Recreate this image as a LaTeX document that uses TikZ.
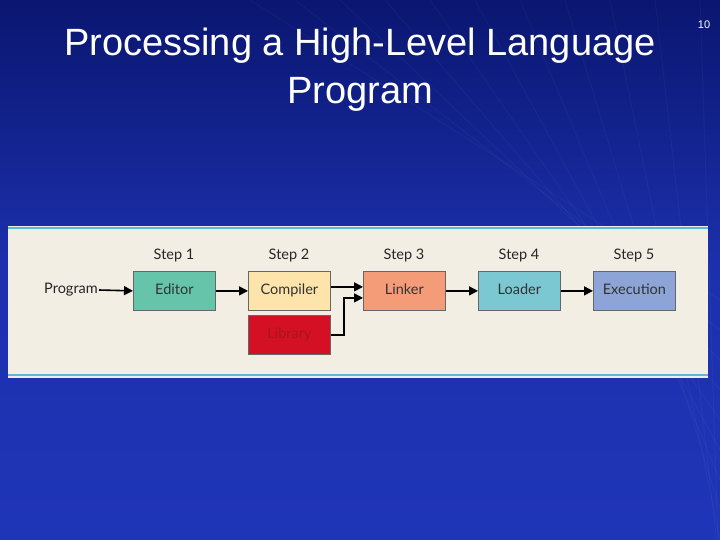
\documentclass[tikz,border=0pt]{standalone}
\usepackage{fontspec}
\setmainfont{Liberation Sans}
\newfontfamily\boxfont{Lato}
\usetikzlibrary{arrows.meta}
\definecolor{bgA}{HTML}{0A1670}
\definecolor{bgB}{HTML}{1F35B8}
\definecolor{panel}{HTML}{F3EEE3}
\definecolor{edgeC}{HTML}{5BB8D8}
\tikzset{
 stepbox/.style={draw=black!60, line width=0.8pt, minimum width=82pt, minimum height=39pt, anchor=north west, font=\boxfont\fontsize{14.5}{14}\selectfont, text=black!80, text height=10pt, text depth=3pt},
 steplab/.style={font=\boxfont\fontsize{14.5}{14}\selectfont, text=black!85, text height=10pt, text depth=3pt},
 conn/.style={-{Triangle[length=9pt,width=9pt]}, line width=1.6pt}
}
\begin{document}
\begin{tikzpicture}[x=1pt,y=-1pt]
\useasboundingbox (0,0) rectangle (720,540);
\shade[top color=bgA, bottom color=bgB, middle color=bgB!85!bgA] (0,0) rectangle (720,540);
\foreach \i in {0,...,10} {\draw[white, opacity=0.03, line width=1pt] (250+\i*45,0) -- (720,300+\i*30);}
\node[text=white, font=\fontsize{38}{48}\selectfont, align=center] (title) at (360,70) {Processing a High-Level Language\\Program};
\node[text=white, font=\fontsize{11}{11}\selectfont] (num) at (704,25) {10};
\fill[panel] (8,226) rectangle (708,378);
\draw[edgeC, line width=2pt] (8,228) -- (708,228);
\draw[edgeC, line width=2pt] (8,375) -- (708,375);
\node[stepbox, fill={rgb,255:red,102;green,196;blue,170}] (ed) at (133,271) {Editor};
\node[stepbox, fill={rgb,255:red,252;green,228;blue,170}] (co) at (248,271) {Compiler};
\node[stepbox, fill={rgb,255:red,244;green,156;blue,120}] (li) at (363,271) {Linker};
\node[stepbox, fill={rgb,255:red,124;green,200;blue,210}] (lo) at (478,271) {Loader};
\node[stepbox, fill={rgb,255:red,140;green,164;blue,214}] (ex) at (593,271) {Execution};
\node[stepbox, fill={rgb,255:red,212;green,16;blue,36}, text={rgb,255:red,170;green,20;blue,30}] (lb) at (248,315) {Library};
\node[steplab, anchor=east, inner sep=1pt] (pr) at (99,290) {Program};
\node[steplab] (s1) at (174,256) {Step 1};
\node[steplab] (s2) at (289,256) {Step 2};
\node[steplab] (s3) at (404,256) {Step 3};
\node[steplab] (s4) at (519,256) {Step 4};
\node[steplab] (s5) at (634,256) {Step 5};
\draw[conn] (pr.east) -- (ed.west);
\draw[conn] (ed.east) -- (co.west);
\draw[conn] ([yshift=4pt]co.east) -- ([yshift=4pt]li.west);
\draw[conn] (lb.east) -- ++(13,0) |- ([yshift=-7pt]li.west);
\draw[conn] (li.east) -- (lo.west);
\draw[conn] (lo.east) -- (ex.west);
\end{tikzpicture}
\end{document}
